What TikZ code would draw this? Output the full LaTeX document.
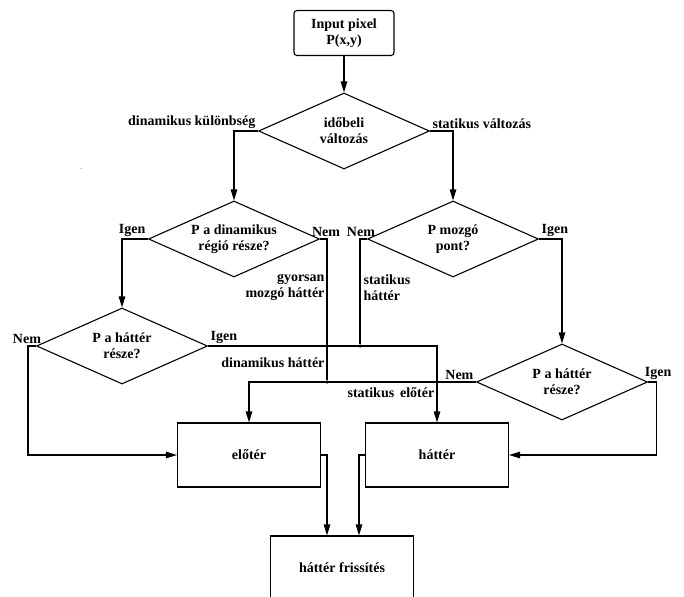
\documentclass[tikz,border=0pt]{standalone}
\usepackage{fontspec}
\setmainfont{Liberation Serif}
\usepackage{tikz}
\usetikzlibrary{shapes.geometric, positioning, arrows.meta}

\begin{document}
\begin{tikzpicture}[x=1pt, y=-1pt, on grid, line width=1.1pt,
    >={Triangle[length=11pt,width=6.5pt]},
    every node/.style={font=\fontsize{14}{16}\selectfont\bfseries},
    start/.style={draw, rounded corners=3pt, align=center, minimum width=100pt, minimum height=45pt, inner sep=1pt},
    decision/.style={draw, diamond, shape aspect=2.25, align=center, minimum width=171pt, minimum height=76pt, inner sep=0pt},
    block/.style={draw, minimum width=143pt, minimum height=64pt},
    lbl/.style={inner sep=2pt, align=center},
    dot/.style={circle, fill, inner sep=0pt, minimum size=3.5pt}]
   \useasboundingbox (0,0) rectangle (684,596);

   \node[start] (input) at (344,33) {Input pixel\\P(x,y)};
   \node[decision] (time) [below=98pt of input] {időbeli\\változás};

   % dinamikus ág
   \node[decision] (dyn) [below left=108pt and 110pt of time] {P a dinamikus\\régió része?};
   \node[decision] (bg_dyn) [below left=107pt and 112pt of dyn] {P a háttér\\része?};

   % statikus ág
   \node[decision] (mov) [below right=108pt and 109pt of time] {P mozgó\\pont?};
   \node[decision] (bg_mov) [below right=143pt and 109pt of mov] {P a háttér\\része?};

   % kimenetek
   \node[block] (fg) [below right=216pt and 15pt of dyn] {előtér};
   \node[block] (bg) [right=188pt of fg] {háttér};
   \node[block] (upd) [below right=113pt and 93pt of fg] {háttér frissítés};

   \node[dot] (j_dyn) at (327,382) {};
   \node[dot] (j_mov) at (360,346) {};
   \node[font=\scriptsize, text=gray] (mark) at (81,171) {˘};

   \draw[->] (input) -- (time);
   \draw[->] (time.west) -| (dyn.north);
   \draw[->] (time.east) -| (mov.north);
   \draw[->] (dyn.west) -| (bg_dyn.north);
   \draw[->] (mov.east) -| (bg_mov.north);
   \draw (dyn.east) -| (j_dyn);
   \draw (mov.west) -| (j_mov);
   \draw[->] (bg_mov.west) -| (fg.north);
   \draw[->] (bg_dyn.east) -| (bg.north);
   \draw[->] (bg_dyn.west) -- ++(-8,0) |- (fg.west);
   \draw[->] (bg_mov.east) -- ++(8,0) |- (bg.east);
   \draw[->] (fg.east) -| ([xshift=-15pt]upd.north);
   \draw[->] (bg.west) -| ([xshift=17pt]upd.north);

   % feliratok
   \node[lbl, above left] (l_dk) at (time.west) {dinamikus különbség};
   \node[lbl, above right] (l_sv) at (time.east) {statikus változás};
   \node[lbl, above left] (l_dyn_y) at (dyn.west) {Igen};
   \node[lbl, above] (l_dyn_n) at ([xshift=6pt]dyn.east) {Nem};
   \node[lbl, above] (l_mov_n) at ([xshift=-6pt]mov.west) {Nem};
   \node[lbl, above right] (l_mov_y) at (mov.east) {Igen};
   \node[lbl, align=right, anchor=east] (l_gy) at (327,287) {gyorsan\\mozgó háttér};
   \node[lbl, align=left, anchor=west] (l_sh) at (361,288) {statikus\\háttér};
   \node[lbl, above] (l_bgd_n) at ([xshift=-9pt]bg_dyn.west) {Nem};
   \node[lbl, above right] (l_bgd_y) at (bg_dyn.east) {Igen};
   \node[lbl, anchor=east] (l_dh) at (327,363) {dinamikus háttér};
   \node[lbl, anchor=west] (l_se) at (345,393) {statikus\, előtér};
   \node[lbl, above left] (l_bgm_n) at (bg_mov.west) {Nem};
   \node[lbl, above] (l_bgm_y) at ([xshift=10pt]bg_mov.east) {Igen};
\end{tikzpicture}
\end{document}
